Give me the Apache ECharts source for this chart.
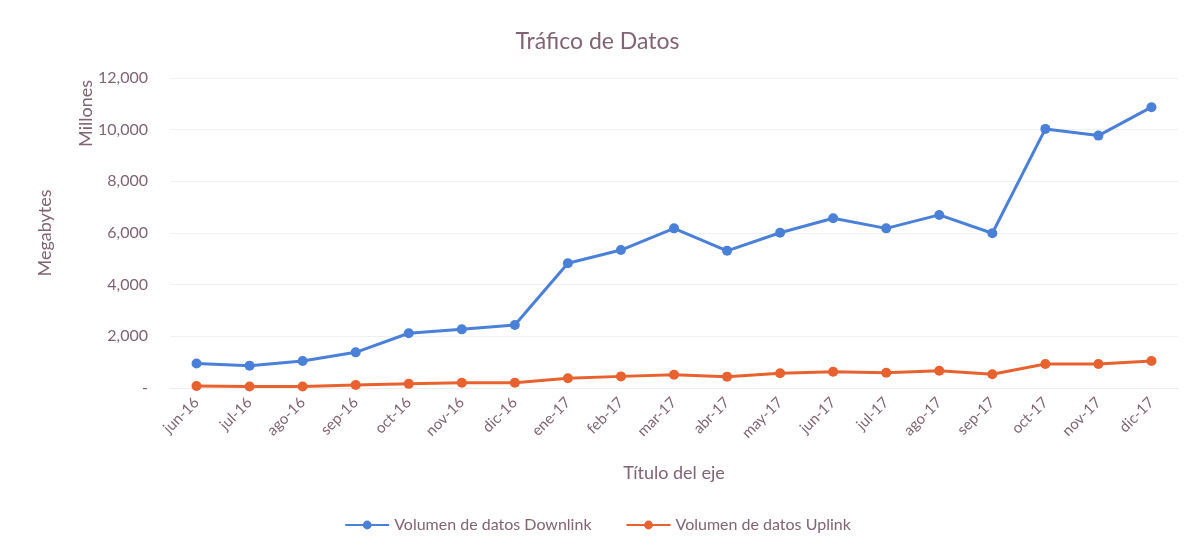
<!DOCTYPE html>
<html>
<head>
    <meta charset="utf-8">
    <title>Tráfico de Datos</title>
    <script src="https://cdn.jsdelivr.net/npm/echarts@6/dist/echarts.min.js"></script>
    <style>
        html, body { margin: 0; padding: 0; background: #fff; }
    </style>
</head>
<body>
    <div id="main" style="width: 1195px;height:550px;"></div>

<script type="text/javascript">
    // datos (millones de MB)
    var meses = ['jun-16', 'jul-16', 'ago-16', 'sep-16', 'oct-16', 'nov-16', 'dic-16',
        'ene-17', 'feb-17', 'mar-17', 'abr-17', 'may-17', 'jun-17', 'jul-17',
        'ago-17', 'sep-17', 'oct-17', 'nov-17', 'dic-17'];
    var downlink = [950, 865, 1045, 1380, 2120, 2270, 2440, 4830, 5340, 6180, 5310,
        6010, 6570, 6180, 6700, 5990, 10030, 9770, 10870];
    var uplink = [75, 55, 55, 115, 160, 205, 205, 375, 450, 515, 440,
        570, 630, 590, 670, 530, 930, 930, 1045];

    var txt = '#806474';
    var fuente = 'Lato';

    var myChart = echarts.init(document.getElementById('main'));

    var option = {
        backgroundColor: '#fff',
        textStyle: { fontFamily: fuente },
        title: {
            text: 'Tráfico de Datos',
            left: 'center',
            top: 25,
            textStyle: { color: txt, fontSize: 23, fontWeight: 'normal', fontFamily: fuente }
        },
        legend: {
            bottom: 12,
            left: 'center',
            itemGap: 34,
            itemWidth: 44,
            itemHeight: 11,
            textStyle: { color: txt, fontSize: 16, fontFamily: fuente },
            data: ['Volumen de datos Downlink', 'Volumen de datos Uplink']
        },
        graphic: [{
            type: 'text',
            left: 77,
            top: 80,
            rotation: Math.PI / 2,
            style: { text: 'Millones', fill: txt, font: '18px ' + fuente }
        }],
        grid: {
            left: 170,
            right: 17,
            top: 78,
            bottom: 162
        },
        xAxis: {
            type: 'category',
            data: meses,
            name: 'Título del eje',
            nameLocation: 'middle',
            nameGap: 76,
            nameTextStyle: { color: txt, fontSize: 18, fontFamily: fuente },
            axisLine: { show: true, lineStyle: { color: '#ececec' } },
            axisTick: { show: false },
            axisLabel: { color: txt, fontSize: 15, rotate: 45, margin: 12, fontFamily: fuente }
        },
        yAxis: {
            type: 'value',
            min: 0,
            max: 12000,
            interval: 2000,
            name: 'Megabytes',
            nameLocation: 'middle',
            nameGap: 116,
            nameTextStyle: { color: txt, fontSize: 18, fontFamily: fuente },
            axisLine: { show: false },
            axisTick: { show: false },
            axisLabel: {
                color: txt,
                fontSize: 16,
                margin: 22,
                fontFamily: fuente,
                formatter: function (v) {
                    return v === 0 ? '-' : v.toLocaleString('en-US');
                }
            },
            splitLine: { lineStyle: { color: '#f0f0f0' } }
        },
        series: [{
            name: 'Volumen de datos Downlink',
            type: 'line',
            data: downlink,
            symbol: 'circle',
            symbolSize: 10,
            color: '#4a80d8',
            lineStyle: { width: 3 },
            itemStyle: { color: '#4a80d8' }
        }, {
            name: 'Volumen de datos Uplink',
            type: 'line',
            data: uplink,
            symbol: 'circle',
            symbolSize: 10,
            color: '#e8622f',
            lineStyle: { width: 3 },
            itemStyle: { color: '#e8622f' }
        }]
    };

    myChart.setOption(option);
</script>
</body>
</html>
